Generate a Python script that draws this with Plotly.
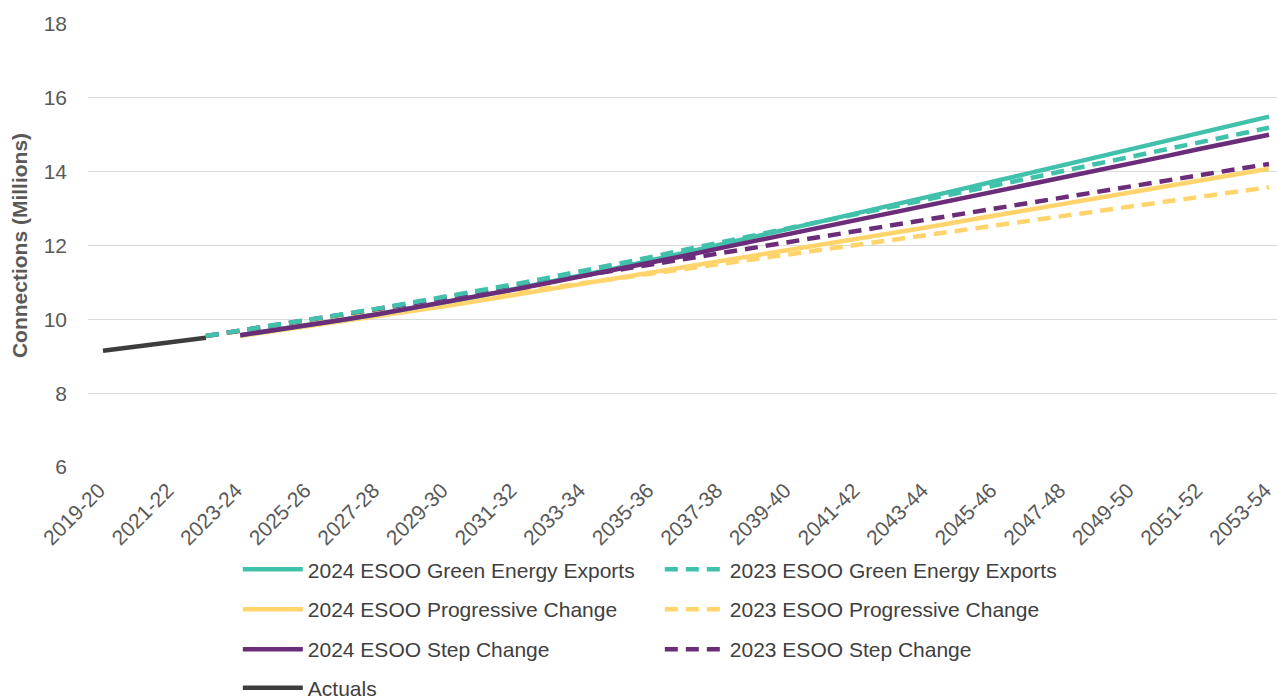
import plotly.graph_objects as go

# Financial years on the category axis
years = [
    "2019-20", "2020-21", "2021-22", "2022-23", "2023-24", "2024-25", "2025-26",
    "2026-27", "2027-28", "2028-29", "2029-30", "2030-31", "2031-32", "2032-33",
    "2033-34", "2034-35", "2035-36", "2036-37", "2037-38", "2038-39", "2039-40",
    "2040-41", "2041-42", "2042-43", "2043-44", "2044-45", "2045-46", "2046-47",
    "2047-48", "2048-49", "2049-50", "2050-51", "2051-52", "2052-53", "2053-54",
]
tick_years = years[::2]

# Historical connections (millions)
actual_years = years[0:4]
actuals = [9.15, 9.27, 9.38, 9.50]

# 2023 ESOO forecasts, from 2022-23
esoo23_years = years[3:]
esoo23_gee = [9.55, 9.69, 9.84, 9.99, 10.14, 10.29, 10.45, 10.61, 10.78, 10.95,
              11.13, 11.31, 11.50, 11.69, 11.89, 12.08, 12.27, 12.47, 12.66, 12.86,
              13.05, 13.24, 13.44, 13.63, 13.82, 14.02, 14.21, 14.41, 14.60, 14.80,
              14.99, 15.19]
esoo23_pc = [9.55, 9.68, 9.81, 9.94, 10.07, 10.20, 10.33, 10.46, 10.59, 10.72,
             10.85, 10.98, 11.11, 11.24, 11.37, 11.50, 11.63, 11.76, 11.89, 12.02,
             12.15, 12.28, 12.41, 12.54, 12.67, 12.80, 12.93, 13.06, 13.19, 13.32,
             13.45, 13.58]
esoo23_sc = [9.55, 9.69, 9.83, 9.98, 10.13, 10.28, 10.43, 10.58, 10.73, 10.88,
             11.03, 11.18, 11.33, 11.48, 11.63, 11.78, 11.93, 12.08, 12.23, 12.38,
             12.53, 12.68, 12.83, 12.98, 13.14, 13.29, 13.44, 13.60, 13.75, 13.90,
             14.06, 14.21]

# 2024 ESOO forecasts, from 2023-24
esoo24_years = years[4:]
esoo24_gee = [9.57, 9.70, 9.84, 9.99, 10.14, 10.30, 10.47, 10.64, 10.82, 11.00,
              11.19, 11.39, 11.60, 11.81, 12.02, 12.23, 12.45, 12.66, 12.88, 13.09,
              13.31, 13.52, 13.74, 13.96, 14.17, 14.39, 14.61, 14.83, 15.05, 15.27,
              15.49]
esoo24_pc = [9.55, 9.68, 9.81, 9.94, 10.07, 10.21, 10.36, 10.51, 10.66, 10.81,
             10.96, 11.11, 11.26, 11.41, 11.56, 11.71, 11.86, 12.01, 12.17, 12.33,
             12.49, 12.65, 12.81, 12.97, 13.13, 13.29, 13.45, 13.61, 13.77, 13.93,
             14.08]
esoo24_sc = [9.57, 9.70, 9.84, 9.99, 10.14, 10.30, 10.47, 10.64, 10.81, 10.99,
             11.17, 11.35, 11.54, 11.73, 11.93, 12.12, 12.31, 12.50, 12.69, 12.88,
             13.08, 13.27, 13.46, 13.65, 13.85, 14.04, 14.23, 14.42, 14.62, 14.81,
             15.00]

GREEN = "#41C1AB"
YELLOW = "#FFD46C"
PURPLE = "#6B2C7A"
GREY = "#3D3D3D"
DASH = "13px,8px"
LW = 4.5

# (name, x, y, colour, dash, legend row, rank) in drawing order
series = [
    ("2023 ESOO Progressive Change", esoo23_years, esoo23_pc, YELLOW, DASH, "legend2", 2),
    ("2024 ESOO Progressive Change", esoo24_years, esoo24_pc, YELLOW, "solid", "legend2", 1),
    ("2023 ESOO Step Change", esoo23_years, esoo23_sc, PURPLE, DASH, "legend3", 2),
    ("2024 ESOO Green Energy Exports", esoo24_years, esoo24_gee, GREEN, "solid", "legend", 1),
    ("2024 ESOO Step Change", esoo24_years, esoo24_sc, PURPLE, "solid", "legend3", 1),
    ("2023 ESOO Green Energy Exports", esoo23_years, esoo23_gee, GREEN, DASH, "legend", 2),
    ("Actuals", actual_years, actuals, GREY, "solid", "legend4", 1),
]

fig = go.Figure()
for name, xs, ys, colour, dash, leg, rank in series:
    fig.add_trace(go.Scatter(
        x=xs, y=ys, name=name, mode="lines", legend=leg, legendrank=rank,
        line=dict(color=colour, width=LW, dash=dash),
    ))

FONT = "Liberation Sans, Arial, sans-serif"


def legend_row(y):
    # one legend per row, two entries side by side
    return dict(
        orientation="h", x=0.126, xanchor="left", y=y, yanchor="top",
        entrywidth=347, itemwidth=60, traceorder="normal",
        font=dict(family=FONT, size=21, color="#404040"),
        bgcolor="rgba(0,0,0,0)",
    )


fig.update_layout(
    width=1277, height=700,
    margin=dict(l=88, r=0, t=24, b=233, autoexpand=False),
    paper_bgcolor="white", plot_bgcolor="white",
    font=dict(family=FONT, size=21, color="#595959"),
    showlegend=True,
    legend=legend_row(-0.1855),
    legend2=legend_row(-0.2754),
    legend3=legend_row(-0.3657),
    legend4=legend_row(-0.4527),
    xaxis=dict(
        type="category", categoryorder="array", categoryarray=years,
        range=[-0.4375, 34.233], tickmode="array", tickvals=tick_years,
        ticktext=tick_years, tickangle=-45, showgrid=False, zeroline=False,
        showline=False, ticks="", tickfont=dict(size=21, color="#595959"),
        ticklabelstandoff=6, ticklabelshift=-4, automargin=False,
    ),
    yaxis=dict(
        range=[6, 18], dtick=2, tick0=6, showgrid=True, gridcolor="#D9D9D9",
        gridwidth=1, zeroline=False, showline=False, ticks="",
        tickfont=dict(size=21, color="#595959"), ticklabelstandoff=20,
        automargin=False,
        title=dict(text="<b>Connections (Millions)</b>",
                   font=dict(size=21, color="#595959"), standoff=10),
    ),
)

fig.write_html("out.html")
